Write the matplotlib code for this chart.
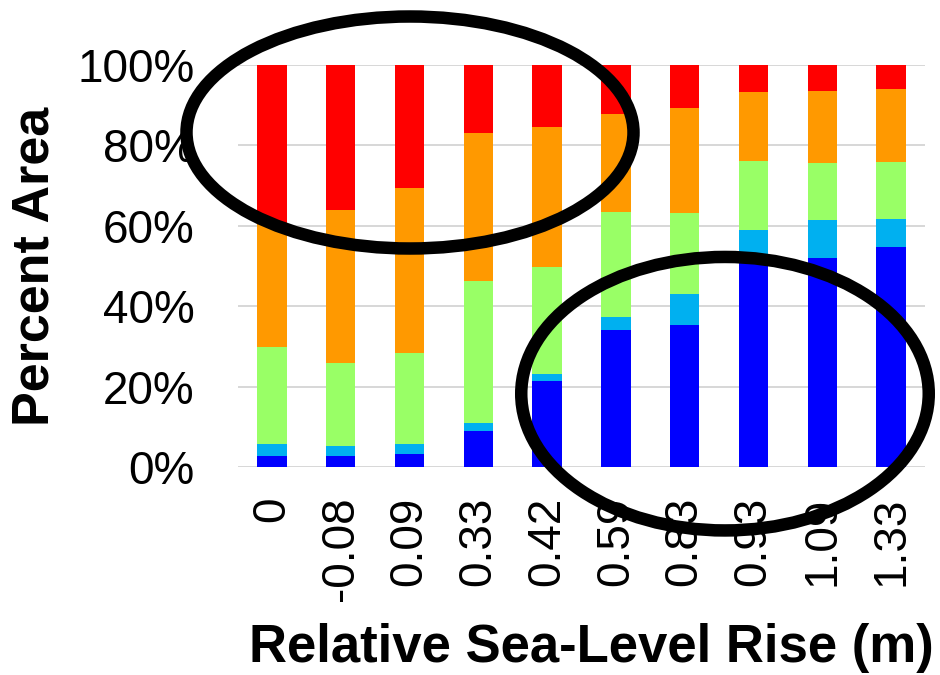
import matplotlib
matplotlib.use("Agg")
import matplotlib.pyplot as plt
from matplotlib.patches import Ellipse
import numpy as np

plt.rcParams["font.family"] = ["Liberation Sans", "DejaVu Sans"]

# relative sea-level rise scenarios (m)
slr_labels = ["0", "-0.08", "0.09", "0.33", "0.42", "0.59", "0.83", "0.93", "1.09", "1.33"]

# percent of area in each class, stacked bottom to top
blue = [2.8, 2.7, 3.2, 9.1, 21.5, 34.1, 35.4, 53.1, 52.0, 54.7]
cyan = [2.9, 2.7, 2.5, 1.8, 1.7, 3.2, 7.7, 5.9, 9.4, 7.0]
green = [24.3, 20.5, 22.6, 35.4, 26.6, 26.1, 20.1, 17.2, 14.3, 14.2]
orange = [30.8, 38.0, 41.2, 36.9, 34.8, 24.3, 26.0, 17.2, 17.8, 18.1]
red = [39.2, 36.1, 30.5, 16.8, 15.4, 12.3, 10.8, 6.6, 6.5, 6.0]

series = [blue, cyan, green, orange, red]
colors = ["#0000FF", "#00B0F0", "#99FF66", "#FF9900", "#FF0000"]

fig = plt.figure(figsize=(9.4, 6.75), dpi=100)
ax = fig.add_axes([0.2528, 0.3077, 0.7317, 0.596])

x = np.arange(len(slr_labels))
bottom = np.zeros(len(slr_labels))
for vals, c in zip(series, colors):
    ax.bar(x, vals, width=0.427, bottom=bottom, color=c, zorder=2)
    bottom += np.array(vals)

ax.set_xlim(-0.5, len(slr_labels) - 0.5)
ax.set_ylim(0, 100)
ax.set_yticks(np.arange(0, 101, 20))
ax.set_yticklabels([f"{v}%" for v in range(0, 101, 20)])
ax.set_xticks(x)
ax.set_xticklabels(slr_labels, rotation=90, va="top", ha="center")
ax.tick_params(axis="y", length=0, pad=31, labelsize=33)
ax.tick_params(axis="x", length=0, pad=21, labelsize=33)
ax.grid(axis="y", color="#D4D4D4", linewidth=1.3, zorder=0)
ax.set_axisbelow(True)
for s in ax.spines.values():
    s.set_visible(False)

fig.text(35 / 940, 1 - 266 / 675, "Percent Area", rotation=90, fontsize=37.5,
         fontweight="bold", ha="center", va="center")
fig.text(591 / 940, 1 - 662 / 675, "Relative Sea-Level Rise (m)", fontsize=38,
         fontweight="bold", ha="center", va="baseline")

# highlight rings
ring_lw = 9
fig.add_artist(Ellipse((410 / 940, 1 - 132.5 / 675), 447 / 940, 232 / 675,
                       transform=fig.transFigure, fill=False, edgecolor="black",
                       linewidth=ring_lw, zorder=10))
fig.add_artist(Ellipse((725 / 940, 1 - 393.7 / 675), 407.5 / 940, 273.5 / 675,
                       transform=fig.transFigure, fill=False, edgecolor="black",
                       linewidth=ring_lw, zorder=10))

fig.savefig("out.png", dpi=100)
